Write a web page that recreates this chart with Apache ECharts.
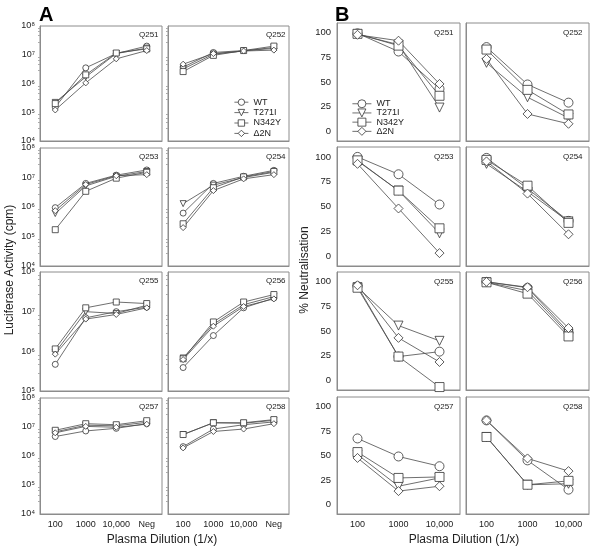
<!DOCTYPE html>
<html>
<head>
<meta charset="utf-8">
<script src="https://cdn.jsdelivr.net/npm/echarts@6/dist/echarts.min.js"></script>
<style>
  html, body { margin: 0; padding: 0; background: #fff; }
  #chart { width: 600px; height: 551px; }
</style>
</head>
<body>
<div id="chart"></div>
<script>
// variants and plasma samples
var variants = ['WT', 'T271I', 'N342Y', '\u03942N'];
var samples = ['Q251', 'Q252', 'Q253', 'Q254', 'Q255', 'Q256', 'Q257', 'Q258'];
var dilutionsA = ['100', '1000', '10,000', 'Neg'];
var dilutionsB = ['100', '1000', '10,000'];

// A: luciferase activity (cpm), one row per variant (WT, T271I, N342Y, Δ2N)
var lucQ251 = [[1.5e5, 3.5e6, 1.1e7, 2.0e7], [2.2e5, 1.7e6, 1.1e7, 1.7e7], [2.0e5, 2.0e6, 1.15e7, 1.6e7], [1.2e5, 1.05e6, 7.2e6, 1.4e7]];
var lucQ252 = [[3.7e6, 1.2e7, 1.4e7, 1.65e7], [3.2e6, 1.05e7, 1.35e7, 1.8e7], [2.6e6, 0.95e7, 1.4e7, 2.0e7], [4.7e6, 1.1e7, 1.35e7, 1.45e7]];
var lucQ253 = [[9.5e5, 6.3e6, 1.2e7, 1.8e7], [6.0e5, 5.2e6, 1.1e7, 1.6e7], [1.7e5, 3.4e6, 9.5e6, 1.5e7], [7.5e5, 5.8e6, 1.15e7, 1.25e7]];
var lucQ254 = [[6.2e5, 6.3e6, 1.1e7, 1.75e7], [1.3e6, 5.5e6, 1.0e7, 1.5e7], [2.7e5, 4.5e6, 1.05e7, 1.6e7], [2.0e5, 3.6e6, 9.0e6, 1.25e7]];
var lucQ255 = [[4.7e5, 7.0e6, 1.0e7, 1.3e7], [9.3e5, 1.0e7, 9.0e6, 1.45e7], [1.15e6, 1.25e7, 1.75e7, 1.6e7], [8.5e5, 6.5e6, 8.5e6, 1.25e7]];
var lucQ256 = [[3.9e5, 2.5e6, 1.25e7, 2.2e7], [6.8e5, 4.8e6, 1.5e7, 2.4e7], [6.5e5, 5.5e6, 1.75e7, 2.7e7], [6.2e5, 4.3e6, 1.35e7, 2.1e7]];
var lucQ257 = [[4.7e6, 7.3e6, 9.0e6, 1.3e7], [6.8e6, 1.15e7, 1.1e7, 1.45e7], [7.7e6, 1.3e7, 1.2e7, 1.65e7], [6.3e6, 1.05e7, 9.8e6, 1.25e7]];
var lucQ258 = [[2.1e6, 8.5e6, 1.2e7, 1.5e7], [5.5e6, 1.4e7, 1.35e7, 1.7e7], [5.5e6, 1.4e7, 1.4e7, 1.8e7], [1.9e6, 7.0e6, 8.5e6, 1.3e7]];

// B: % neutralisation, one row per variant
var neuQ251 = [[99.5, 81, 43], [98.5, 88, 24], [99, 87, 36], [98, 92, 48]];
var neuQ252 = [[85.5, 47.5, 29], [69.5, 34.5, 13.5], [83, 42, 17], [73.5, 17.5, 7.5]];
var neuQ253 = [[100, 82.5, 52], [96, 66, 23], [96.5, 66, 28], [93, 48, 3]];
var neuQ254 = [[99, 68, 35.5], [93, 65, 35], [97, 71, 33.5], [95.5, 63, 22]];
var neuQ255 = [[95.5, 24, 29], [94.5, 55.5, 40], [94, 24, -7], [96.5, 43, 18.5]];
var neuQ256 = [[100, 94, 49], [99.5, 91, 47], [99.5, 88, 44.5], [100, 94.5, 53]];
var neuQ257 = [[67.5, 49, 39], [51, 18.5, 27], [53.5, 27, 28], [47.5, 13.5, 18.5]];
var neuQ258 = [[86, 45, 15], [69, 20, 21], [69, 20, 24], [86, 47, 34]];

var lucData = [lucQ251, lucQ252, lucQ253, lucQ254, lucQ255, lucQ256, lucQ257, lucQ258];
var neuData = [neuQ251, neuQ252, neuQ253, neuQ254, neuQ255, neuQ256, neuQ257, neuQ258];

// panel layout [left/top, width/height] in px
var colA = [[40, 122], [168, 121]];
var rowA = [[26, 115], [148, 118], [272, 119], [398, 116]];
var colB = [[337, 123], [466, 123]];
var rowB = [[23, 118], [147, 119], [272, 118], [397, 117]];

var FONT = 'Liberation Sans, Arial, Helvetica, sans-serif';
var FRAME = '#8c8c8c';
var symbols = ['circle', 'triangle', 'rect', 'diamond'];
var rotations = [0, 180, 0, 0];
var sup = {4: '\u2074', 5: '\u2075', 6: '\u2076', 7: '\u2077', 8: '\u2078'};

var grids = [], xAxes = [], yAxes = [], series = [], graphics = [];

function addPanel(k, left, top, width, height, cats, isLog, row, col, rows, data, symSize) {
    grids.push({ left: left, top: top, width: width, height: height, show: true,
        borderColor: FRAME, borderWidth: 1, backgroundColor: 'transparent' });
    xAxes.push({
        gridIndex: k, type: 'category', data: cats, boundaryGap: true,
        axisLine: { onZero: false, lineStyle: { color: FRAME, width: 1 } },
        axisTick: { alignWithLabel: true, length: 3, lineStyle: { color: FRAME } },
        axisLabel: { show: row === rows - 1, interval: 0, fontSize: 9, color: '#222', fontFamily: FONT, margin: 6 }
    });
    if (isLog) {
        yAxes.push({
            gridIndex: k, type: 'log', logBase: 10, min: row === 2 ? 1e5 : 1e4, max: 1e8,
            axisLine: { show: true, onZero: false, lineStyle: { color: FRAME, width: 1 } },
            axisTick: { length: 3, lineStyle: { color: FRAME } },
            minorTick: { show: true, splitNumber: 5, length: 2, lineStyle: { color: '#aaa' } },
            splitLine: { show: false },
            axisLabel: { show: col === 0, fontSize: 9, color: '#222', fontFamily: FONT, margin: 5,
                formatter: function (v) { return '10' + sup[Math.round(Math.log10(v))]; } }
        });
    } else {
        yAxes.push({
            gridIndex: k, type: 'value', min: -10, max: 110,
            axisLine: { show: true, onZero: false, lineStyle: { color: FRAME, width: 1 } },
            axisTick: { length: 3, lineStyle: { color: FRAME }, customValues: [0, 25, 50, 75, 100] },
            splitLine: { show: false },
            axisLabel: { show: col === 0, fontSize: 9.5, color: '#222', fontFamily: FONT, margin: 6,
                customValues: [0, 25, 50, 75, 100] }
        });
    }
    for (var v = 0; v < variants.length; v++) {
        series.push({
            type: 'line', name: variants[v], xAxisIndex: k, yAxisIndex: k,
            data: data[v], symbol: symbols[v], symbolRotate: rotations[v], symbolSize: symSize,
            showSymbol: true, animation: false, silent: true,
            lineStyle: { color: '#4a4a4a', width: 0.8 },
            itemStyle: { color: '#fff', borderColor: '#333', borderWidth: 0.8 }
        });
    }
}

// panel A: luciferase activity
for (var i = 0; i < samples.length; i++) {
    var r = Math.floor(i / 2), c = i % 2;
    addPanel(i, colA[c][0], rowA[r][0], colA[c][1], rowA[r][1], dilutionsA, true, r, c, 4, lucData[i], 6);
    graphics.push({ type: 'text', left: colA[c][0] + colA[c][1] - 23, top: rowA[r][0] + 5,
        style: { text: samples[i], font: '8px ' + FONT, fill: '#222' } });
}
// panel B: neutralisation
for (var j = 0; j < samples.length; j++) {
    var rb = Math.floor(j / 2), cb = j % 2;
    addPanel(8 + j, colB[cb][0], rowB[rb][0], colB[cb][1], rowB[rb][1], dilutionsB, false, rb, cb, 4, neuData[j], 9);
    graphics.push({ type: 'text', left: colB[cb][0] + colB[cb][1] - 26, top: rowB[rb][0] + 6,
        style: { text: samples[j], font: '8px ' + FONT, fill: '#222' } });
}

// panel letters and axis names
graphics.push({ type: 'text', left: 39, top: 5, style: { text: 'A', font: 'bold 20px ' + FONT, fill: '#000' } });
graphics.push({ type: 'text', left: 335, top: 5, style: { text: 'B', font: 'bold 20px ' + FONT, fill: '#000' } });
graphics.push({ type: 'text', x: 10, y: 270, rotation: Math.PI / 2,
    style: { text: 'Luciferase Activity (cpm)', font: '12px ' + FONT, fill: '#222', align: 'center', verticalAlign: 'middle' } });
graphics.push({ type: 'text', x: 305, y: 270, rotation: Math.PI / 2,
    style: { text: '% Neutralisation', font: '12px ' + FONT, fill: '#222', align: 'center', verticalAlign: 'middle' } });
graphics.push({ type: 'text', x: 162, y: 540,
    style: { text: 'Plasma Dilution (1/x)', font: '12px ' + FONT, fill: '#222', align: 'center', verticalAlign: 'middle' } });
graphics.push({ type: 'text', x: 464, y: 540,
    style: { text: 'Plasma Dilution (1/x)', font: '12px ' + FONT, fill: '#222', align: 'center', verticalAlign: 'middle' } });

var legendItem = { color: '#fff', borderColor: '#333', borderWidth: 0.8 };
var legendLine = { color: '#4a4a4a', width: 0.8 };

var chart = echarts.init(document.getElementById('chart'), null, { renderer: 'canvas' });
chart.setOption({
    animation: false,
    backgroundColor: '#fff',
    grid: grids,
    xAxis: xAxes,
    yAxis: yAxes,
    legend: [
        { data: variants, orient: 'vertical', left: 229, top: 92, itemWidth: 14, itemHeight: 8, itemGap: 0,
          selectedMode: false, itemStyle: legendItem, lineStyle: legendLine,
          textStyle: { fontSize: 9, lineHeight: 10.4, color: '#222', fontFamily: FONT } },
        { data: variants, orient: 'vertical', left: 347, top: 94, itemWidth: 19, itemHeight: 10, itemGap: -0.3,
          selectedMode: false, itemStyle: legendItem, lineStyle: legendLine,
          textStyle: { fontSize: 9, lineHeight: 9.5, color: '#222', fontFamily: FONT } }
    ],
    series: series,
    graphic: graphics
});
</script>
</body>
</html>
